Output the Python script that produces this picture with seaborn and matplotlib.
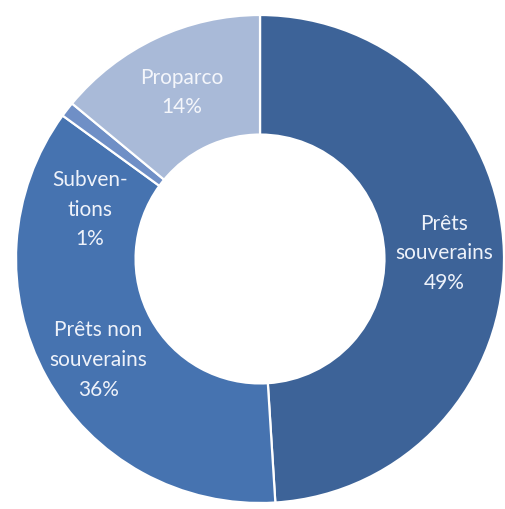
import matplotlib
matplotlib.use("Agg")
import matplotlib.pyplot as plt
import numpy as np
import seaborn as sns

# Répartition des engagements (%)
categories = ["Prêts\nsouverains", "Prêts non\nsouverains", "Subven-\ntions", "Proparco"]
values = [49, 36, 1, 14]
colors = ["#3d6398", "#4673b0", "#6f8fc6", "#a9bad8"]
text_colors = ["#eef2fa", "#eef2fa", "#eef2fa", "#f4f6fb"]

sns.set_theme(style="white")
plt.rcParams["font.family"] = ["Lato", "DejaVu Sans"]

fig = plt.figure(figsize=(5.05, 5.09), dpi=100)
ax = fig.add_axes([0, 0, 1, 1])

inner = 0.51
wedges, _ = ax.pie(
    values,
    colors=sns.color_palette(colors),
    startangle=90,
    counterclock=False,
    radius=1.0,
    wedgeprops=dict(width=1 - inner, edgecolor="white", linewidth=1.6),
)

# Labels at the middle of the ring; some get a small nudge
mid_r = (1 + inner) / 2
offsets = {1: (0.0, -0.05), 2: (-0.10, -0.26)}
total = sum(values)
start = 0.0
for i, (cat, v) in enumerate(zip(categories, values)):
    mid = start + v / 2
    start += v
    ang = np.deg2rad(90 - 360 * mid / total)
    x, y = mid_r * np.cos(ang), mid_r * np.sin(ang)
    dx, dy = offsets.get(i, (0, 0))
    ax.text(x + dx, y + dy, f"{cat}\n{v}%", ha="center", va="center",
            fontsize=15, color=text_colors[i], linespacing=1.6)

ax.set_xlim(-1.0656, 1.004)
ax.set_ylim(-1.0246, 1.0615)
ax.set_aspect("equal")
ax.axis("off")

fig.savefig("out.png", dpi=100)
